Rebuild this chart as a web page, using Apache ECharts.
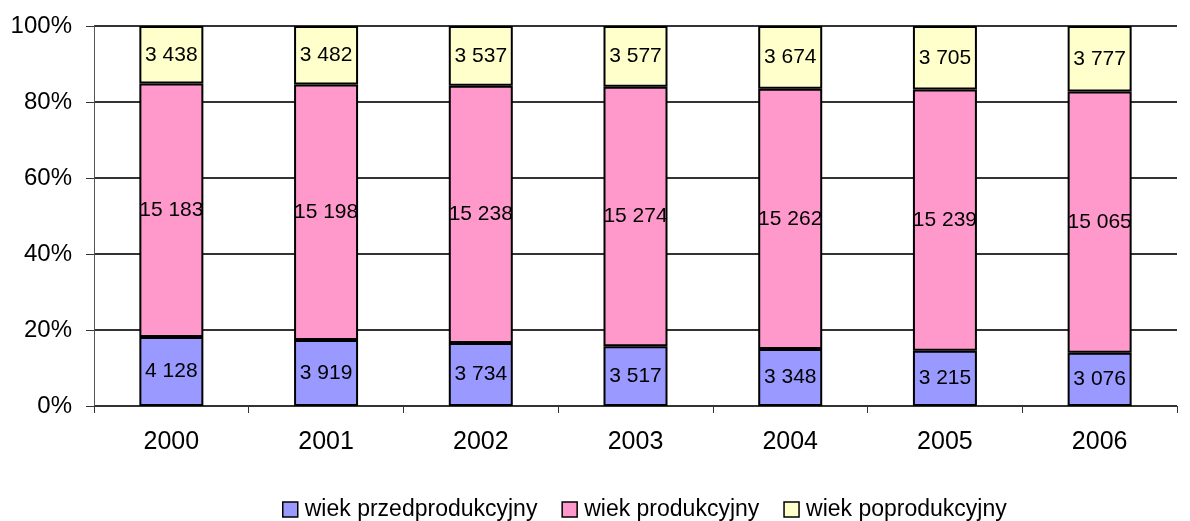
<!DOCTYPE html>
<html>
<head>
<meta charset="utf-8">
<script src="https://cdn.jsdelivr.net/npm/echarts@6/dist/echarts.min.js"></script>
<style>
  html, body { margin: 0; padding: 0; background: #fff; }
  #chart { width: 1190px; height: 521px; }
</style>
</head>
<body>
<div id="chart"></div>
<script>
const years = ['2000', '2001', '2002', '2003', '2004', '2005', '2006']
const przed = [4128, 3919, 3734, 3517, 3348, 3215, 3076]
const prod = [15183, 15198, 15238, 15274, 15262, 15239, 15065]
const poprod = [3438, 3482, 3537, 3577, 3674, 3705, 3777]
const yTicks = [0, 0.2, 0.4, 0.6, 0.8, 1]

const totals = years.map((y, i) => przed[i] + prod[i] + poprod[i])
const fmt = v => String(v).replace(/\B(?=(\d{3})+(?!\d))/g, ' ')
const font = 'Liberation Sans, Arial, sans-serif'

const makeSeries = (name, raw, color) => ({
  name,
  type: 'bar',
  stack: 'all',
  barWidth: 64,
  data: raw.map((v, i) => ({ value: v / totals[i], raw: v })),
  itemStyle: { color, borderColor: '#000', borderWidth: 2 },
  label: {
    show: true,
    position: 'inside',
    color: '#000',
    fontSize: 21,
    fontFamily: font,
    formatter: p => fmt(p.data.raw),
  },
})

const chart = echarts.init(document.getElementById('chart'))
chart.setOption({
  animation: false,
  grid: { left: 94, right: 13, top: 26, bottom: 115 },
  legend: {
    top: 498,
    left: 282,
    padding: 0,
    icon: 'rect',
    itemWidth: 15,
    itemHeight: 15,
    itemGap: 24,
    itemStyle: { borderColor: '#000', borderWidth: 1.5 },
    textStyle: { fontSize: 23, color: '#000', fontFamily: font, padding: [0, 0, 0, 2] },
  },
  xAxis: {
    type: 'category',
    data: years,
    axisLine: { lineStyle: { color: '#333', width: 1 } },
    axisTick: { show: true, alignWithLabel: false, length: 7, lineStyle: { color: '#333' } },
    axisLabel: { color: '#000', fontSize: 25, margin: 24, fontFamily: font },
  },
  yAxis: {
    type: 'value',
    min: 0,
    max: 1,
    interval: 0.2,
    axisLine: { show: true, lineStyle: { color: '#555', width: 1 } },
    axisTick: { show: true, length: 8, lineStyle: { color: '#333' } },
    splitLine: { lineStyle: { color: '#333', width: 2 } },
    axisLabel: {
      color: '#000',
      fontSize: 24,
      margin: 22,
      fontFamily: font,
      formatter: v => yTicks.includes(Math.round(v * 10) / 10) ? Math.round(v * 100) + '%' : '',
    },
  },
  series: [
    makeSeries('wiek przedprodukcyjny', przed, '#9999FF'),
    makeSeries('wiek produkcyjny', prod, '#FF99CC'),
    makeSeries('wiek poprodukcyjny', poprod, '#FFFFCC'),
  ],
})
</script>
</body>
</html>
